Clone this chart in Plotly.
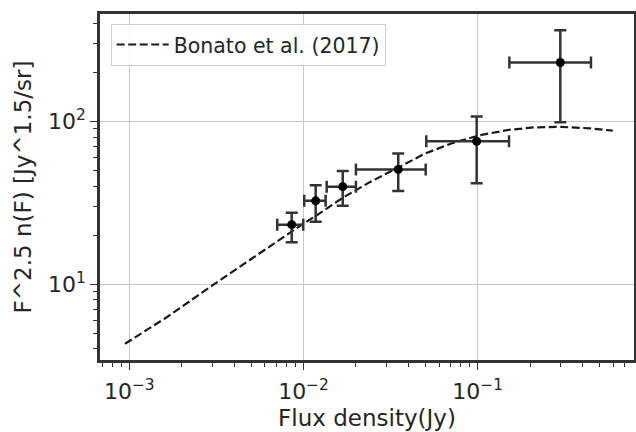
import plotly.graph_objects as go

# Measured points
flux = [0.00856, 0.01175, 0.0168, 0.035, 0.0987, 0.298]
flux_lo = [0.00707, 0.0101, 0.01359, 0.0200, 0.0507, 0.152]
flux_hi = [0.00997, 0.0134, 0.0200, 0.0503, 0.1513, 0.447]
counts = [23.2, 32.5, 39.7, 50.7, 75.5, 230.0]
counts_lo = [18.1, 24.2, 30.3, 37.4, 41.6, 98.6]
counts_hi = [27.5, 40.5, 49.5, 63.5, 107.3, 363.0]

# Bonato et al. (2017) model curve
model_flux = [0.000945, 0.00164, 0.00304, 0.00563, 0.00997, 0.0118, 0.0168, 0.0241,
              0.035, 0.0505, 0.0712, 0.102, 0.152, 0.213, 0.301, 0.441, 0.596]
model_counts = [4.30, 6.26, 9.92, 15.6, 23.5, 26.3, 33.9, 42.4,
                52.4, 63.8, 73.4, 82.1, 88.8, 91.9, 92.5, 90.6, 87.7]

x_tickvals = [0.001, 0.01, 0.1]
x_ticktext = ["10<sup>−3</sup>", "10<sup>−2</sup>", "10<sup>−1</sup>"]
y_tickvals = [10, 100]
y_ticktext = ["10<sup>1</sup>", "10<sup>2</sup>"]

x_minor = [m * 10 ** e for e in (-4, -3, -2, -1) for m in range(2, 10)]
y_minor = [m * 10 ** e for e in (0, 1, 2) for m in range(2, 10)]

ink = "#262626"

fig = go.Figure()
fig.add_trace(go.Scatter(
    x=model_flux, y=model_counts, mode="lines",
    line=dict(color="#1a1a1a", width=2.2, dash="8px,3.5px"),
    name="Bonato et al. (2017)",
))
fig.add_trace(go.Scatter(
    x=flux, y=counts, mode="markers",
    marker=dict(color="black", size=9),
    error_x=dict(type="data", symmetric=False,
                 array=[h - v for h, v in zip(flux_hi, flux)],
                 arrayminus=[v - l for v, l in zip(flux, flux_lo)],
                 color="#333333", thickness=2.5, width=6),
    error_y=dict(type="data", symmetric=False,
                 array=[h - v for h, v in zip(counts_hi, counts)],
                 arrayminus=[v - l for v, l in zip(counts, counts_lo)],
                 color="#333333", thickness=2.5, width=6),
    showlegend=False,
))

axis_common = dict(
    showline=True, linecolor="#333333", linewidth=2.5, mirror=True,
    ticks="outside", ticklen=7, tickwidth=1.2, tickcolor="#333333",
    showgrid=True, gridcolor="#c8c8c8", gridwidth=1,
    zeroline=False, tickfont=dict(size=22, color=ink),
)

fig.update_xaxes(
    type="log", range=[-3.168, -0.1027],
    tickmode="array", tickvals=x_tickvals, ticktext=x_ticktext,
    minor=dict(tickmode="array", tickvals=x_minor, ticks="outside",
               ticklen=4, tickcolor="#333333", showgrid=False),
    ticklabelstandoff=3,
    title=dict(text="Flux density(Jy)", font=dict(size=23, color=ink), standoff=7),
    **axis_common,
)
fig.update_yaxes(
    type="log", range=[0.5339, 2.6597],
    tickmode="array", tickvals=y_tickvals, ticktext=y_ticktext,
    minor=dict(tickmode="array", tickvals=y_minor, ticks="outside",
               ticklen=4, tickcolor="#333333", showgrid=False),
    title=dict(text="F^2.5 n(F) [Jy^1.5/sr]", font=dict(size=23, color=ink), standoff=11),
    **axis_common,
)

fig.update_layout(
    width=636, height=432,
    margin=dict(l=100, r=2, t=14, b=72, autoexpand=False),
    paper_bgcolor="white", plot_bgcolor="white",
    font=dict(family="DejaVu Sans", color=ink),
    legend=dict(x=0.02, y=0.972, xanchor="left", yanchor="top",
                bgcolor="rgba(255,255,255,0.85)", bordercolor="#d0d0d0",
                borderwidth=1, itemwidth=52, font=dict(size=20.5, color=ink)),
)

fig.write_html(
    "out.html",
    config={"displayModeBar": False},
    post_script="document.body.style.margin='0';document.body.style.overflow='hidden';",
)
